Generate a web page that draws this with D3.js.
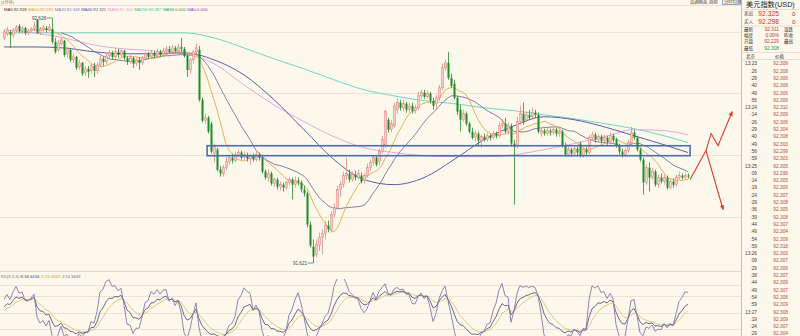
<!DOCTYPE html>
<html>
<head>
<meta charset="utf-8">
<script src="https://cdn.jsdelivr.net/npm/d3@7"></script>
<style>
body { margin: 0; background: #fdf8ec; }
svg { display: block; font-family: "Liberation Sans", "Noto Sans CJK SC", sans-serif; }
</style>
</head>
<body>
<svg id="chart"></svg>
<script>
// one-minute candles
const open = [
92.546,92.563,92.571,92.558,92.579,92.595,92.575,92.587,92.567,92.575,
92.583,92.620,92.567,92.579,92.587,92.579,92.583,92.530,92.497,92.522,
92.534,92.481,92.497,92.456,92.468,92.427,92.444,92.403,92.419,92.411,
92.431,92.411,92.435,92.460,92.448,92.472,92.485,92.468,92.489,92.476,
92.493,92.464,92.448,92.464,92.440,92.456,92.444,92.464,92.481,92.468,
92.485,92.472,92.489,92.476,92.493,92.501,92.489,92.505,92.493,92.509,
92.501,92.472,92.415,92.456,92.489,92.497,92.292,92.206,92.218,92.194,
92.071,92.087,92.005,91.989,92.013,92.038,92.054,92.042,92.066,92.075,
92.054,92.066,92.050,92.062,92.046,92.066,92.054,91.997,91.972,91.989,
91.948,91.964,91.935,91.943,91.931,91.952,91.964,91.943,91.960,91.952,
91.923,91.907,91.779,91.689,91.656,91.693,91.726,91.743,91.775,91.759,
91.820,91.849,91.923,91.943,91.980,91.989,91.964,91.984,91.972,91.980,
91.960,91.980,92.013,92.034,92.054,92.038,92.079,92.107,92.210,92.169,
92.185,92.251,92.280,92.259,92.276,92.251,92.267,92.247,92.259,92.308,
92.321,92.304,92.317,92.288,92.276,92.300,92.341,92.423,92.444,92.382,
92.358,92.300,92.251,92.210,92.235,92.194,92.161,92.136,92.153,92.124,
92.140,92.128,92.144,92.136,92.153,92.144,92.185,92.194,92.161,92.185,
92.112,92.103,92.202,92.235,92.210,92.230,92.222,92.239,92.230,92.153,
92.165,92.153,92.165,92.157,92.169,92.153,92.161,92.103,92.066,92.087,
92.071,92.091,92.112,92.062,92.087,92.075,92.136,92.148,92.128,92.140,
92.124,92.136,92.120,92.144,92.128,92.103,92.079,92.066,92.083,92.116,
92.157,92.136,92.087,92.046,91.952,92.013,91.972,91.997,91.943,91.972,
91.956,91.972,91.931,91.956,91.943,91.972,91.980,91.972,91.980];

const close = [
92.571,92.579,92.558,92.579,92.591,92.575,92.587,92.567,92.575,92.583,
92.595,92.567,92.583,92.591,92.579,92.591,92.530,92.489,92.526,92.538,
92.476,92.497,92.456,92.468,92.423,92.444,92.399,92.419,92.407,92.431,
92.411,92.435,92.460,92.448,92.472,92.485,92.468,92.489,92.476,92.493,
92.464,92.448,92.464,92.440,92.456,92.444,92.464,92.481,92.468,92.485,
92.472,92.489,92.476,92.493,92.501,92.489,92.505,92.493,92.509,92.501,
92.472,92.415,92.456,92.489,92.505,92.292,92.206,92.218,92.161,92.079,
92.099,92.005,91.989,92.013,92.038,92.054,92.042,92.066,92.075,92.054,
92.066,92.050,92.062,92.046,92.066,92.054,91.997,91.972,91.989,91.948,
91.964,91.935,91.943,91.931,91.952,91.964,91.943,91.960,91.952,91.923,
91.907,91.779,91.693,91.648,91.697,91.726,91.743,91.775,91.759,91.820,
91.849,91.923,91.943,91.980,91.989,91.964,91.984,91.972,91.989,91.956,
91.980,92.013,92.034,92.054,92.025,92.079,92.128,92.243,92.169,92.194,
92.267,92.280,92.259,92.276,92.251,92.267,92.247,92.259,92.308,92.321,
92.304,92.317,92.288,92.267,92.300,92.341,92.423,92.444,92.382,92.349,
92.300,92.243,92.210,92.235,92.194,92.161,92.136,92.153,92.124,92.140,
92.128,92.144,92.136,92.153,92.144,92.185,92.194,92.161,92.185,92.112,
92.099,92.202,92.235,92.202,92.230,92.218,92.239,92.230,92.161,92.165,
92.153,92.165,92.157,92.169,92.153,92.161,92.103,92.066,92.087,92.071,
92.091,92.075,92.062,92.087,92.075,92.136,92.148,92.128,92.140,92.124,
92.136,92.120,92.144,92.128,92.103,92.079,92.066,92.083,92.116,92.157,
92.136,92.087,92.046,91.952,92.013,91.972,91.997,91.943,91.972,91.956,
91.972,91.931,91.956,91.943,91.972,91.980,91.972,91.980,91.976];

const high = [
92.579,92.591,92.579,92.587,92.599,92.604,92.595,92.591,92.583,92.591,
92.612,92.624,92.591,92.599,92.595,92.604,92.628,92.546,92.538,92.546,
92.538,92.509,92.505,92.481,92.472,92.456,92.448,92.431,92.431,92.440,
92.444,92.448,92.472,92.468,92.481,92.497,92.493,92.505,92.501,92.501,
92.497,92.472,92.476,92.468,92.464,92.468,92.472,92.489,92.489,92.497,
92.493,92.501,92.497,92.505,92.513,92.513,92.517,92.513,92.522,92.546,
92.509,92.481,92.464,92.497,92.522,92.513,92.300,92.235,92.226,92.202,
92.112,92.095,92.021,92.025,92.054,92.066,92.071,92.079,92.087,92.083,
92.079,92.075,92.071,92.071,92.079,92.075,92.062,92.005,92.005,91.997,
91.972,91.972,91.956,91.952,91.960,91.976,91.972,91.976,91.972,91.960,
91.939,91.915,91.792,91.718,91.718,91.747,91.759,91.792,91.796,91.833,
91.866,91.939,91.956,91.997,92.054,92.005,91.997,92.001,92.005,91.993,
91.989,92.030,92.046,92.066,92.062,92.091,92.144,92.251,92.218,92.210,
92.280,92.300,92.292,92.292,92.284,92.280,92.280,92.271,92.325,92.333,
92.333,92.329,92.325,92.300,92.312,92.353,92.440,92.456,92.489,92.399,
92.374,92.308,92.271,92.251,92.243,92.202,92.177,92.165,92.161,92.148,
92.153,92.157,92.153,92.165,92.161,92.202,92.210,92.218,92.198,92.194,
92.128,92.222,92.267,92.280,92.243,92.251,92.259,92.251,92.239,92.177,
92.173,92.177,92.173,92.181,92.177,92.173,92.169,92.116,92.099,92.095,
92.103,92.099,92.120,92.095,92.099,92.148,92.161,92.157,92.153,92.148,
92.148,92.144,92.157,92.153,92.136,92.112,92.091,92.095,92.128,92.181,
92.169,92.144,92.095,92.054,92.025,92.034,92.013,92.005,91.984,91.989,
91.984,91.980,91.964,91.968,91.984,91.997,91.989,91.993,91.989];

const low = [
92.538,92.554,92.505,92.546,92.571,92.567,92.563,92.558,92.558,92.567,
92.575,92.563,92.558,92.571,92.567,92.571,92.522,92.481,92.489,92.513,
92.468,92.464,92.448,92.444,92.415,92.415,92.390,92.390,92.382,92.399,
92.386,92.399,92.427,92.431,92.440,92.464,92.456,92.460,92.464,92.468,
92.456,92.435,92.440,92.423,92.431,92.415,92.435,92.456,92.460,92.460,
92.464,92.464,92.468,92.468,92.481,92.481,92.481,92.485,92.485,92.489,
92.464,92.386,92.399,92.440,92.472,92.284,92.198,92.194,92.153,92.071,
92.034,91.997,91.976,91.976,92.005,92.025,92.030,92.034,92.054,92.046,
92.046,92.038,92.025,92.038,92.038,92.042,91.989,91.964,91.956,91.939,
91.935,91.923,91.919,91.915,91.923,91.939,91.882,91.931,91.939,91.911,
91.894,91.767,91.685,91.621,91.644,91.669,91.656,91.718,91.747,91.747,
91.808,91.841,91.894,91.931,91.964,91.952,91.956,91.960,91.964,91.948,
91.948,91.972,92.001,92.021,92.017,92.021,92.071,92.095,92.157,92.157,
92.177,92.235,92.247,92.243,92.239,92.239,92.235,92.235,92.251,92.296,
92.296,92.296,92.276,92.251,92.251,92.288,92.333,92.411,92.374,92.341,
92.292,92.230,92.161,92.202,92.185,92.153,92.128,92.120,92.103,92.095,
92.120,92.120,92.124,92.128,92.132,92.136,92.173,92.153,92.149,92.099,
91.861,92.091,92.189,92.189,92.202,92.210,92.214,92.218,92.153,92.140,
92.144,92.144,92.144,92.148,92.140,92.140,92.095,92.058,92.058,92.058,
92.062,92.062,92.054,92.054,92.062,92.066,92.124,92.116,92.116,92.112,
92.116,92.107,92.112,92.116,92.095,92.066,92.054,92.058,92.075,92.103,
92.128,92.079,92.038,91.902,91.943,91.915,91.964,91.935,91.931,91.948,
91.943,91.923,91.923,91.931,91.935,91.964,91.964,91.968,91.968];

// long moving averages, sampled every 10 bars from the picture
const maIdx   = [0,10,20,30,40,50,60,70,80,90,100,110,120,130,140,150,160,170,180,190,200,210,220,228];
const ma40    = [92.509,92.509,92.505,92.489,92.481,92.481,92.485,92.456,92.394,92.292,92.169,92.046,91.964,91.943,91.972,92.046,92.128,92.185,92.222,92.210,92.181,92.144,92.107,92.075];
const ma60    = [92.579,92.567,92.546,92.517,92.501,92.493,92.481,92.440,92.353,92.271,92.202,92.140,92.095,92.075,92.062,92.058,92.058,92.066,92.087,92.112,92.140,92.169,92.165,92.148];
const ma250   = [92.567,92.567,92.567,92.567,92.567,92.567,92.567,92.546,92.505,92.460,92.419,92.374,92.333,92.308,92.288,92.276,92.259,92.247,92.230,92.214,92.194,92.173,92.144,92.116];

const maLegend = ["MA5:92.318","MA10:92.293","MA20:92.349","MA40:92.321","MA60:92.404","MA250:92.387","MA90:0.000","MA0:0.000"];
const kdLegend = ["KD(9,3,3)","K:55.6116","D:45.3449","J:74.3449"];
const gridPrices = [92.571, 92.321, 92.066, 91.812];
const kdGrid = [20, 50, 80, 100];

// the blue box and the two hand-drawn arrows, as [bar index, price]
const zone = {from: 67.7, to: 228.7, lo: 92.062, hi: 92.103};
const arrowUp = [[228.7,91.964],[234,92.083],[235.7,92.153],[238,92.103],[242.7,92.243]];
const arrowDown = [[234,92.083],[239.7,91.841]];

// quote box on the right
const quoteTitle = "美元指数(USD)";
const bidAsk = [["卖出","92.325","0"],["买入","92.298","0"]];
const quoteRows = [["最新","92.311","涨跌"],["幅度","0.09%","昨收"],["开盘","92.229","最高"],["最低","92.308",""]];
const tickTimes = ["13:23",":26",":29",":40",":49",":56","13:24",":14",":26",":29",":40",":49",":56",":59","13:25",":09",":14",":19",":24",":29",":36",":39",":44",":49",":54",":59","13:26",":09",":29",":39",":44",":49",":54",":59","13:27",":19",":24",":29"];
const tickPrices = ["92.309","92.308","92.306","92.308","92.306","92.306","92.310","92.309","92.306","92.304","92.308","92.303","92.299","92.303","92.305","92.299","92.305","92.306","92.307","92.308","92.305","92.308","92.307","92.304","92.309","92.318","92.303","92.307","92.306","92.307","92.309","92.307","92.306","92.309","92.308","92.309","92.307","92.304"];
const toolbar = ["品通画面","周期","分时切换"];

const W = 800, H = 336;
const bg = "#fdf8ec";
const svg = d3.select("#chart").attr("width", W).attr("height", H);
svg.append("rect").attr("width", W).attr("height", H).attr("fill", bg);

const x = d3.scaleLinear().domain([0, 245]).range([4, 739]);
const y = d3.scaleLinear().domain([d3.min(low), d3.max(high)]).range([263, 18]);
const ky = d3.scaleLinear().domain([0, 100]).range([340, 285]);

svg.append("clipPath").attr("id", "mainClip")
  .append("rect").attr("x", 0).attr("y", 6).attr("width", 741).attr("height", 263);
svg.append("clipPath").attr("id", "kdClip")
  .append("rect").attr("x", 0).attr("y", 279).attr("width", 741).attr("height", 60);

// frame and grid
const frame = svg.append("g").attr("stroke", "#e4dccb").attr("stroke-width", 0.8);
frame.append("line").attr("x1", 0).attr("x2", 741).attr("y1", 5.5).attr("y2", 5.5);
frame.selectAll(".g").data(gridPrices).enter().append("line")
  .attr("x1", 0).attr("x2", 741)
  .attr("y1", d => Math.round(y(d)) + 0.5).attr("y2", d => Math.round(y(d)) + 0.5);
frame.append("line").attr("x1", 0).attr("x2", 741).attr("y1", 271.5).attr("y2", 271.5).attr("stroke", "#d8d0bf");
frame.selectAll(".k").data(kdGrid).enter().append("line")
  .attr("x1", 0).attr("x2", 741)
  .attr("y1", d => Math.round(ky(d)) + 0.5).attr("y2", d => Math.round(ky(d)) + 0.5);
svg.append("line").attr("x1", 741.5).attr("x2", 741.5).attr("y1", 0).attr("y2", H)
  .attr("stroke", "#c8c0b0").attr("stroke-width", 1);

// moving averages of the close
function sma(vals, n) {
  const out = [];
  for (let i = n - 1; i < vals.length; i++) {
    out.push({i: i, v: d3.mean(vals.slice(i - n + 1, i + 1))});
  }
  return out;
}
const line = d3.line().x(d => x(d.i)).y(d => y(d.v));
const smooth = d3.line().x(d => x(d.i)).y(d => y(d.v)).curve(d3.curveMonotoneX);
const sparse = vals => maIdx.map((i, k) => ({i: i, v: vals[k]}));

const mg = svg.append("g").attr("clip-path", "url(#mainClip)").attr("fill", "none");
mg.append("path").attr("d", smooth(sparse(ma250))).attr("stroke", "#74d6c6").attr("stroke-width", 1);
mg.append("path").attr("d", smooth(sparse(ma60))).attr("stroke", "#e2a9e0").attr("stroke-width", 1);
mg.append("path").attr("d", smooth(sparse(ma40))).attr("stroke", "#5c5cae").attr("stroke-width", 1);
mg.append("path").attr("d", line(sma(close, 20))).attr("stroke", "#76769a").attr("stroke-width", 0.9);
mg.append("path").attr("d", line(sma(close, 10))).attr("stroke", "#e8a84c").attr("stroke-width", 0.9);

// candles: red up (hollow), green down (solid)
const idx = d3.range(close.length);
const up = i => close[i] >= open[i];
const cg = svg.append("g");
cg.selectAll(".wick").data(idx).enter().append("line")
  .attr("x1", i => Math.round(x(i)) + 0.5).attr("x2", i => Math.round(x(i)) + 0.5)
  .attr("y1", i => y(high[i])).attr("y2", i => y(low[i]))
  .attr("stroke", i => up(i) ? "#e48a84" : "#2a8c2e").attr("stroke-width", 0.8);
cg.selectAll(".body").data(idx).enter().append("rect")
  .attr("x", i => Math.round(x(i)) - 0.5)
  .attr("width", 2)
  .attr("y", i => y(Math.max(open[i], close[i])))
  .attr("height", i => Math.max(0.8, Math.abs(y(open[i]) - y(close[i]))))
  .attr("fill", i => up(i) ? "#f7cdc6" : "#1f8a28")
  .attr("stroke", i => up(i) ? "#e07c76" : "none")
  .attr("stroke-width", 0.5);

// high / low labels
const hiI = d3.maxIndex(high), loI = d3.minIndex(low);
const lab = svg.append("g").attr("font-size", 4.6).attr("fill", "#444");
lab.append("text").attr("x", x(hiI) - 6).attr("y", y(high[hiI]) + 1.5)
  .attr("text-anchor", "end").text(high[hiI].toFixed(3));
lab.append("line").attr("x1", x(hiI) - 5.5).attr("x2", x(hiI)).attr("y1", y(high[hiI])).attr("y2", y(high[hiI]))
  .attr("stroke", "#444").attr("stroke-width", 0.6);
lab.append("text").attr("x", x(loI) - 6).attr("y", y(low[loI]) + 1.5)
  .attr("text-anchor", "end").text(low[loI].toFixed(3));
lab.append("line").attr("x1", x(loI) - 5.5).attr("x2", x(loI)).attr("y1", y(low[loI])).attr("y2", y(low[loI]))
  .attr("stroke", "#444").attr("stroke-width", 0.6);

// blue zone
svg.append("rect")
  .attr("x", x(zone.from)).attr("y", y(zone.hi))
  .attr("width", x(zone.to) - x(zone.from)).attr("height", y(zone.lo) - y(zone.hi))
  .attr("fill", "none").attr("stroke", "#4d6cb8").attr("stroke-width", 1.6);

// red arrows
svg.append("defs").append("marker").attr("id", "head")
  .attr("viewBox", "0 0 10 10").attr("refX", 8).attr("refY", 5)
  .attr("markerWidth", 5).attr("markerHeight", 5).attr("orient", "auto")
  .append("path").attr("d", "M0,1L10,5L0,9Z").attr("fill", "#e03a36");
const arrowLine = d3.line().x(d => x(d[0])).y(d => y(d[1]));
[arrowUp, arrowDown].forEach(a => {
  svg.append("path").attr("d", arrowLine(a)).attr("fill", "none")
    .attr("stroke", "#e03a36").attr("stroke-width", 1.1).attr("marker-end", "url(#head)");
});

// KDJ(9,3,3) from the candles
const kdj = [];
let K = 50, D = 50;
idx.forEach(i => {
  const s = Math.max(0, i - 8);
  const lo = d3.min(low.slice(s, i + 1)), hi = d3.max(high.slice(s, i + 1));
  const rsv = hi > lo ? (close[i] - lo) / (hi - lo) * 100 : 50;
  K = (2 * K + rsv) / 3;
  D = (2 * D + K) / 3;
  kdj.push({i: i, k: K, d: D, j: 3 * K - 2 * D});
});
const kg = svg.append("g").attr("clip-path", "url(#kdClip)").attr("fill", "none").attr("stroke-width", 0.9);
kg.append("path").attr("d", d3.line().x(d => x(d.i)).y(d => ky(d.d))(kdj)).attr("stroke", "#dcc278");
kg.append("path").attr("d", d3.line().x(d => x(d.i)).y(d => ky(d.k))(kdj)).attr("stroke", "#5a5a80");
kg.append("path").attr("d", d3.line().x(d => x(d.i)).y(d => ky(d.j))(kdj)).attr("stroke", "#8079b0");

// legends, laid out one after another
function legendRow(items, colors, x0, yy, size) {
  let cx = x0;
  const g = svg.append("g").attr("font-size", size);
  items.forEach((t, k) => {
    const el = g.append("text").attr("x", cx).attr("y", yy).attr("fill", colors[k]).text(t);
    cx += el.node().getComputedTextLength() + 1.6;
  });
}
legendRow(maLegend, ["#333","#e39a2e","#7a7ab8","#5050a8","#e49ad8","#38bfa8","#30a040","#9a40c0"], 4, 10.5, 4.2);
legendRow(kdLegend, ["#777","#333366","#d0a030","#6a6aa0"], 1, 277.6, 4.2);
svg.append("text").attr("x", 1).attr("y", 4).attr("font-size", 4).attr("fill", "#777").text("(1分钟)");

// toolbar
const tbX = [690, 709, 724];
const tb = svg.append("g").attr("font-size", 4.3).attr("fill", "#444");
tb.selectAll("text").data(toolbar).enter().append("text").attr("x", (d, k) => tbX[k]).attr("y", 3.4).text(d => d);
tb.append("rect").attr("x", 722.5).attr("y", -1).attr("width", 18).attr("height", 5.3)
  .attr("fill", "none").attr("stroke", "#5070c0").attr("stroke-width", 0.6);

// quote panel
const qp = svg.append("g");
qp.append("text").attr("x", 746).attr("y", 6.8).attr("font-size", 7.2).attr("fill", "#222").text(quoteTitle);
bidAsk.forEach((r, k) => {
  const yy = 15.5 + k * 8;
  qp.append("text").attr("x", 744).attr("y", yy - 1).attr("font-size", 4.6).attr("fill", "#333").text(r[0]);
  qp.append("text").attr("x", 779).attr("y", yy).attr("text-anchor", "end").attr("font-size", 6.8).attr("fill", "#d03030").text(r[1]);
  qp.append("text").attr("x", 792).attr("y", yy).attr("font-size", 6.2).attr("fill", "#a03030").text(r[2]);
});
quoteRows.forEach((r, k) => {
  const yy = 31 + k * 6.2;
  qp.append("text").attr("x", 744).attr("y", yy).attr("font-size", 4.6).attr("fill", "#333").text(r[0]);
  qp.append("text").attr("x", 779).attr("y", yy).attr("text-anchor", "end").attr("font-size", 4.8)
    .attr("fill", k === 3 ? "#2a9a3a" : "#c83a3a").text(r[1]);
  qp.append("text").attr("x", 784).attr("y", yy).attr("font-size", 4.6).attr("fill", "#333").text(r[2]);
});
const sep = qp.append("g").attr("stroke", "#d8d0bf").attr("stroke-width", 0.6);
[9.5, 26, 52.5, 59.5].forEach(v => sep.append("line").attr("x1", 742).attr("x2", 800).attr("y1", v).attr("y2", v));
qp.append("text").attr("x", 746).attr("y", 57.8).attr("font-size", 4.6).attr("fill", "#333").text("北京");
qp.append("text").attr("x", 775).attr("y", 57.8).attr("font-size", 4.6).attr("fill", "#333").text("价格");
tickTimes.forEach((t, k) => {
  const yy = 65.3 + k * 7.3;
  qp.append("text").attr("x", 757).attr("y", yy).attr("text-anchor", "end").attr("font-size", 4.8).attr("fill", "#444").text(t);
  qp.append("text").attr("x", 788).attr("y", yy).attr("text-anchor", "end").attr("font-size", 4.8).attr("fill", "#c04848").text(tickPrices[k]);
});
</script>
</body>
</html>
